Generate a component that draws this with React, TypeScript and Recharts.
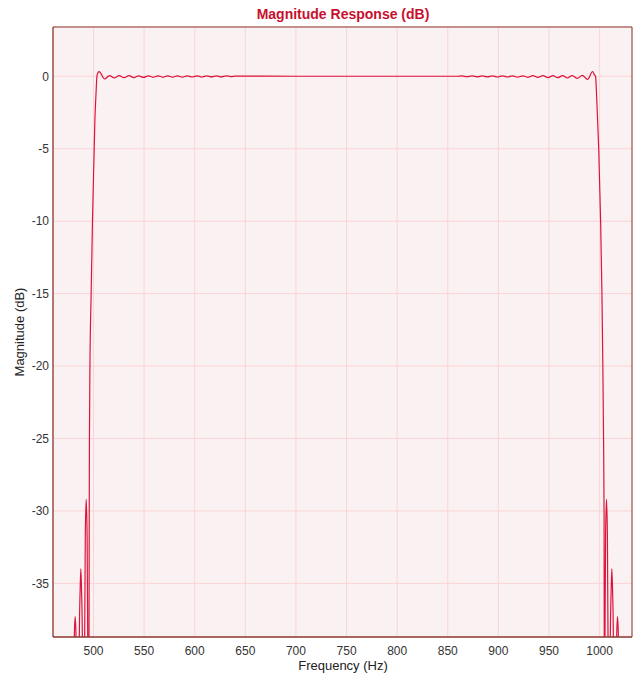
import React from 'react';
import { LineChart, Line, XAxis, YAxis, CartesianGrid, ReferenceLine } from 'recharts';

// Frequency (Hz) sample points
const freqHz: number[] = [
  460,
  480.2, 481.05, 481.9, 482.75, 483.6,
  485.2, 486.0, 486.8, 487.5, 488.2, 489.0, 489.8,
  490.6, 491.3, 491.9, 492.8, 493.7, 494.3, 495.0,
  495.4, 495.8, 496.0, 496.5, 497.7, 499.0, 500.7, 501.4, 502.5, 503.4,
  504.5, 505.6, 511.0, 515.8, 520.6, 525.4, 530.2, 535.0, 539.8, 544.6,
  549.4, 554.2, 559.0, 563.8, 568.6, 573.4, 578.2, 583.0, 587.8, 592.6,
  597.4, 602.2, 607.0, 611.8, 616.6, 621.4, 626.2, 631.0, 635.8, 640.0,
  700, 750, 800, 860,
  864, 869, 874, 879, 884, 889, 894, 899, 904, 909,
  914, 919, 924, 929, 934, 939, 944, 949, 954, 958.5,
  963.5, 968, 973, 978, 982.9, 988.1, 993.1, 994.8, 996.0, 997.0,
  998.0, 999.2, 1001.0, 1002.3, 1003.2, 1003.9, 1004.4, 1004.7,
  1005.0, 1005.3, 1005.9, 1006.8, 1007.7, 1008.3, 1009.0,
  1009.8, 1010.6, 1011.4, 1012.1, 1012.8, 1013.6, 1014.4,
  1016.0, 1016.85, 1017.7, 1018.55, 1019.4,
  1032,
];

// Magnitude (dB) at each frequency point
const magnitudeDb: number[] = [
  -60,
  -60, -38.7, -37.3, -38.7, -60,
  -60, -38.7, -35.5, -34.0, -35.5, -38.7, -60,
  -60, -38.7, -31.7, -29.2, -31.7, -38.7, -60,
  -45, -30, -25, -20, -15, -10, -5, -3, -1.2, 0,
  0.25, 0.32, -0.19, 0.05, -0.12, 0.04, -0.1, 0.04, -0.09, 0.03,
  -0.08, 0.03, -0.07, 0.03, -0.07, 0.03, -0.06, 0.03, -0.06, 0.03,
  -0.05, 0.03, -0.05, 0.03, -0.04, 0.03, -0.04, 0.03, -0.02, 0.01,
  0, 0, 0, 0,
  0.02, -0.03, 0.02, -0.04, 0.03, -0.04, 0.03, -0.05, 0.03, -0.05,
  0.03, -0.06, 0.03, -0.07, 0.04, -0.08, 0.04, -0.09, 0.04, -0.1,
  0.05, -0.12, 0.05, -0.15, 0.06, -0.22, 0.33, 0.1, 0, -1.3,
  -3.0, -5.2, -10, -15, -20, -25, -30, -45,
  -60, -38.7, -31.7, -29.2, -31.7, -38.7, -60,
  -60, -38.7, -35.5, -34.0, -35.5, -38.7, -60,
  -60, -38.7, -37.3, -38.7, -60,
  -60,
];

const xTicks: number[] = [500, 550, 600, 650, 700, 750, 800, 850, 900, 950, 1000];
const yTicks: number[] = [0, -5, -10, -15, -20, -25, -30, -35];

const X_DOMAIN: [number, number] = [460, 1032];
const Y_DOMAIN: [number, number] = [-38.7, 3.4];

const data = freqHz.map((f, i) => ({ f, db: magnitudeDb[i] }));

const BORDER = '#8a3b33';
const FONT = '"Liberation Sans", Arial, Helvetica, sans-serif';

export default function App() {
  return (
    <div style={{ position: 'absolute', left: 0, top: 0, width: 636, height: 677, background: '#ffffff' }}>
      <LineChart
        width={636}
        height={677}
        data={data}
        margin={{ top: 27, right: 4, bottom: 0, left: 0 }}
      >
        <CartesianGrid fill="#faf1f2" stroke="#fcd3d6" strokeWidth={1} />
        <XAxis
          dataKey="f"
          type="number"
          domain={X_DOMAIN}
          ticks={xTicks}
          allowDataOverflow
          height={40}
          tickLine={false}
          tickSize={0}
          tickMargin={9}
          axisLine={{ stroke: BORDER, strokeWidth: 1.3 }}
          tick={{ fill: '#333', fontSize: 12, fontFamily: FONT }}
        />
        <YAxis
          type="number"
          domain={Y_DOMAIN}
          ticks={yTicks}
          allowDataOverflow
          width={53}
          tickLine={false}
          tickSize={0}
          tickMargin={4}
          axisLine={{ stroke: BORDER, strokeWidth: 1.3 }}
          tick={{ fill: '#333', fontSize: 12, fontFamily: FONT }}
        />
        <ReferenceLine y={Y_DOMAIN[1]} stroke={BORDER} strokeWidth={1} />
        <ReferenceLine x={X_DOMAIN[1]} stroke={BORDER} strokeWidth={1} />
        <Line
          type="monotone"
          dataKey="db"
          stroke="#dc143c"
          strokeWidth={1.2}
          dot={false}
          activeDot={false}
          isAnimationActive={false}
        />
      </LineChart>
      <svg
        width={636}
        height={677}
        style={{ position: 'absolute', left: 0, top: 0, pointerEvents: 'none' }}
      >
        <text x={343} y={19} textAnchor="middle" fontFamily={FONT} fontSize={14} fontWeight="bold" fill="#c8102e">
          Magnitude Response (dB)
        </text>
        <text x={343} y={670} textAnchor="middle" fontFamily={FONT} fontSize={13} fill="#222">
          Frequency (Hz)
        </text>
        <text transform="translate(24,332) rotate(-90)" textAnchor="middle" fontFamily={FONT} fontSize={13} fill="#222">
          Magnitude (dB)
        </text>
      </svg>
    </div>
  );
}
